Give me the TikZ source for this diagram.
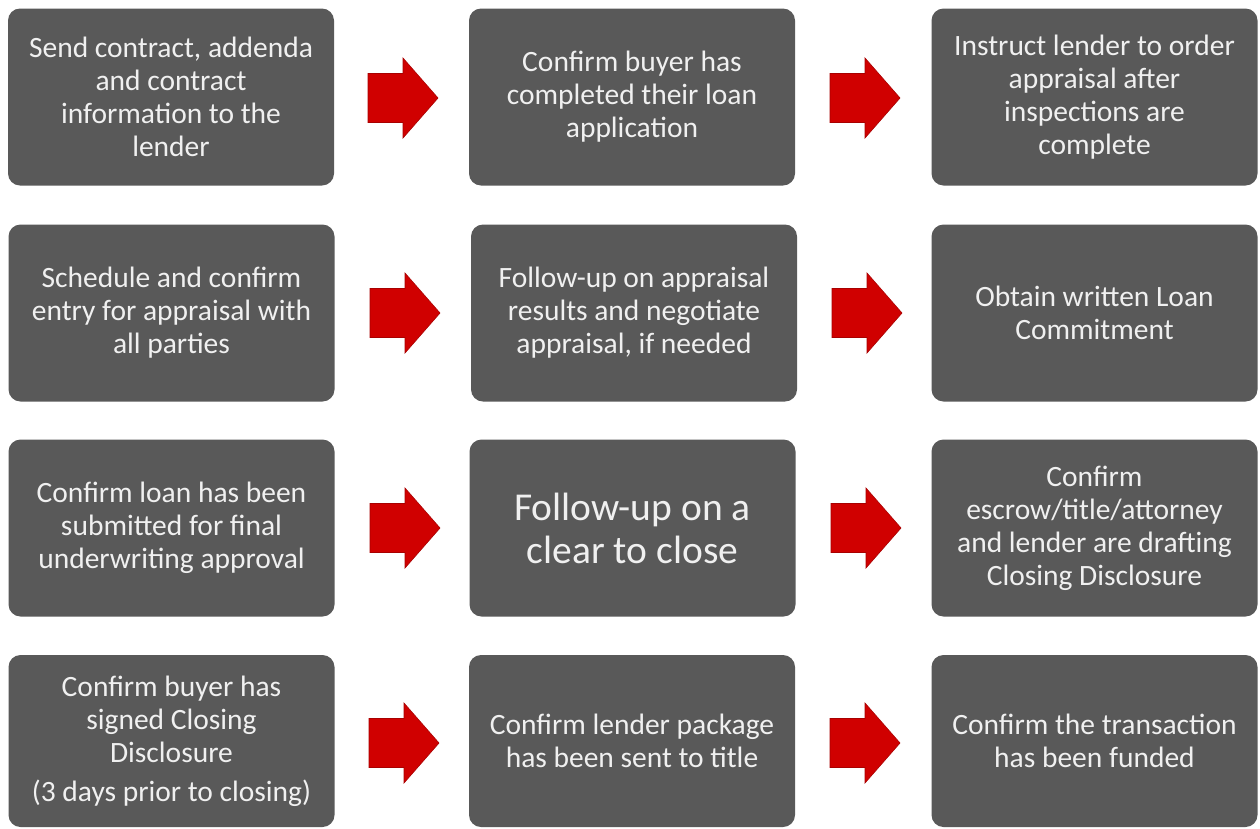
\documentclass[tikz,border=0pt]{standalone}
\usepackage{fontspec}
\setmainfont{Carlito}
\begin{document}
\begin{tikzpicture}[x=1pt,y=-1pt,
  stepbox/.style={fill=boxgray, draw=none, rounded corners=12pt, minimum width=326pt, minimum height=177pt,
    text=boxtext, align=center, font=\fontsize{29.5}{33}\selectfont, inner sep=0pt},
  bigtext/.style={font=\fontsize{39.5}{43}\selectfont},
  redarrow/.pic={\fill[arrowred, draw=arrowdark, line width=0.6pt] (-35,-24.5) -- (0,-24.5) -- (0,-40) -- (35,0) -- (0,40) -- (0,24.5) -- (-35,24.5) -- cycle;}
]
\definecolor{boxgray}{HTML}{595959}
\definecolor{boxtext}{HTML}{F0F0F0}
\definecolor{arrowred}{HTML}{D00000}
\definecolor{arrowdark}{HTML}{A80000}
\useasboundingbox (0,0) rectangle (1260,828);
% row 1
\node[stepbox] (b1) at (171,97) {Send contract, addenda\\and contract\\information to the\\lender};
\node[stepbox] (b2) at (632,97) {Confirm buyer has\\completed their loan\\application};
\node[stepbox] (b3) at (1094.5,97) {Instruct lender to order\\appraisal after\\inspections are\\complete};
% row 2
\node[stepbox] (b4) at (171.5,313) {Schedule and confirm\\entry for appraisal with\\all parties};
\node[stepbox] (b5) at (634,313) {Follow-up on appraisal\\results and negotiate\\appraisal, if needed};
\node[stepbox] (b6) at (1094.5,313) {Obtain written Loan\\Commitment};
% row 3
\node[stepbox] (b7) at (171.5,528) {Confirm loan has been\\submitted for final\\underwriting approval};
\node[stepbox, bigtext] (b8) at (632.5,528) {Follow-up on a\\clear to close};
\node[stepbox] (b9) at (1094.5,528) {Confirm\\escrow/title/attorney\\and lender are drafting\\Closing Disclosure};
% row 4
\node[stepbox, minimum height=172pt] (b10) at (171.5,741) {Confirm buyer has\\signed Closing\\Disclosure\\[6pt](3 days prior to closing)};
\node[stepbox, minimum height=172pt] (b11) at (632,741) {Confirm lender package\\has been sent to title};
\node[stepbox, minimum height=172pt] (b12) at (1094.5,741) {Confirm the transaction\\has been funded};
% arrows
\pic at (403,98) {redarrow};
\pic at (865,98) {redarrow};
\pic at (405,313) {redarrow};
\pic at (867,313) {redarrow};
\pic at (405,528) {redarrow};
\pic at (866,528) {redarrow};
\pic at (404,743) {redarrow};
\pic at (865,743) {redarrow};
\end{tikzpicture}
\end{document}
